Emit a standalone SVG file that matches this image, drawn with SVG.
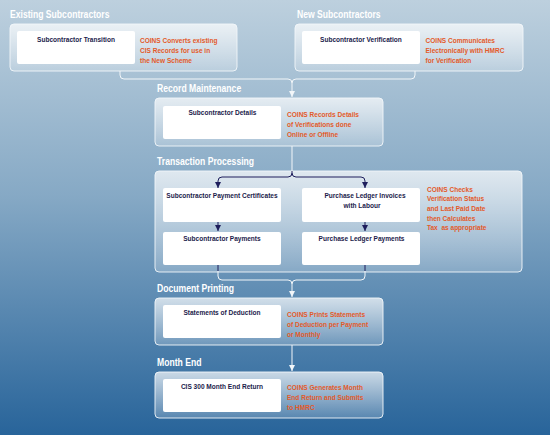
<svg xmlns="http://www.w3.org/2000/svg" width="550" height="435" viewBox="0 0 550 435">
<defs>
<linearGradient id="bg" x1="0" y1="0" x2="0" y2="1">
<stop offset="0" stop-color="#bdd0de"/>
<stop offset="0.45" stop-color="#86a9c5"/>
<stop offset="1" stop-color="#28649a"/>
</linearGradient>
<linearGradient id="pg" x1="0" y1="0" x2="0" y2="1">
<stop offset="0" stop-color="#ffffff" stop-opacity="0.72"/>
<stop offset="1" stop-color="#ffffff" stop-opacity="0.2"/>
</linearGradient>
<marker id="aw" viewBox="0 0 6 6" refX="6" refY="3" markerWidth="6" markerHeight="6" markerUnits="userSpaceOnUse" orient="auto">
<path d="M0,0 L6,3 L0,6 Z" fill="#f2f6f9"/>
</marker>
<marker id="an" viewBox="0 0 6 6" refX="6" refY="3" markerWidth="6" markerHeight="6" markerUnits="userSpaceOnUse" orient="auto">
<path d="M0,0 L6,3 L0,6 Z" fill="#1e1e5c"/>
</marker>
<style>
.panel{fill:url(#pg);stroke:#f2f6f9;stroke-width:1;stroke-opacity:0.9}
.box{fill:#ffffff}
text{font-family:"Liberation Sans",Arial,sans-serif;font-weight:bold;transform:scale(0.82,1)}
.title{font-size:10.5px;fill:#ffffff}
.lbl{font-size:8px;fill:#1b1b4b;text-anchor:middle}
.note{font-size:8px;fill:#e35a2a}
.cw{fill:none;stroke:#f2f6f9;stroke-width:1}
.cn{fill:none;stroke:#1e1e5c;stroke-width:1}
</style>
</defs>
<rect width="550" height="435" fill="url(#bg)"/>

<g id="existing">
<text class="title" x="12.2" y="18">Existing Subcontractors</text>
<rect class="panel" x="10" y="24" width="227" height="47" rx="4"/>
<rect class="box" x="17" y="31" width="118" height="33" rx="2"/>
<text class="lbl" x="92.7" y="42">Subcontractor Transition</text>
<text class="note" x="170.7" y="43.5">COINS Converts existing</text>
<text class="note" x="170.7" y="53.2">CIS Records for use in</text>
<text class="note" x="170.7" y="62.9">the New Scheme</text>
</g>

<g id="new">
<text class="title" x="362.2" y="18">New Subcontractors</text>
<rect class="panel" x="295" y="24" width="228" height="47" rx="4"/>
<rect class="box" x="302" y="31" width="118" height="33" rx="2"/>
<text class="lbl" x="440.2" y="42">Subcontractor Verification</text>
<text class="note" x="518.9" y="43.5">COINS Communicates</text>
<text class="note" x="518.9" y="53.2">Electronically with HMRC</text>
<text class="note" x="518.9" y="62.9">for Verification</text>
</g>

<g id="record">
<text class="title" x="191.5" y="92.5">Record Maintenance</text>
<rect class="panel" x="155" y="98" width="228" height="48" rx="4"/>
<rect class="box" x="163" y="106" width="118" height="33" rx="2"/>
<text class="lbl" x="271.3" y="115.5">Subcontractor Details</text>
<text class="note" x="350" y="117.5">COINS Records Details</text>
<text class="note" x="350" y="127.2">of Verifications done</text>
<text class="note" x="350" y="136.9">Online or Offline</text>
</g>

<g id="transaction">
<text class="title" x="191.5" y="165.5">Transaction Processing</text>
<rect class="panel" x="155" y="171" width="367" height="101" rx="4"/>
<text class="note" x="520.7" y="191.7">COINS Checks</text>
<text class="note" x="520.7" y="201.4">Verification Status</text>
<text class="note" x="520.7" y="211.1">and Last Paid Date</text>
<text class="note" x="520.7" y="220.8">then Calculates</text>
<text class="note" x="520.7" y="230.5" xml:space="preserve">Tax  as appropriate</text>
</g>
<g id="spc">
<rect class="box" x="163" y="188" width="118" height="34" rx="2"/>
<text class="lbl" x="270.7" y="198.5">Subcontractor Payment Certificates</text>
</g>
<g id="pli">
<rect class="box" x="302" y="188" width="118" height="34" rx="2"/>
<text class="lbl" x="445.1" y="198.5">Purchase Ledger Invoices</text>
<text class="lbl" x="441.5" y="208.5">with Labour</text>
</g>
<g id="sp">
<rect class="box" x="163" y="232" width="118" height="33" rx="2"/>
<text class="lbl" x="270.7" y="241.5">Subcontractor Payments</text>
</g>
<g id="plp">
<rect class="box" x="302" y="232" width="118" height="33" rx="2"/>
<text class="lbl" x="440.9" y="241.5">Purchase Ledger Payments</text>
</g>

<g id="document">
<text class="title" x="191.5" y="292">Document Printing</text>
<rect class="panel" x="155" y="298" width="228" height="47" rx="4"/>
<rect class="box" x="163" y="305" width="118" height="33" rx="2"/>
<text class="lbl" x="270.7" y="315.5">Statements of Deduction</text>
<text class="note" x="350" y="317.3">COINS Prints Statements</text>
<text class="note" x="350" y="327">of Deduction per Payment</text>
<text class="note" x="350" y="336.7">or Monthly</text>
</g>

<g id="monthend">
<text class="title" x="191.5" y="366.5">Month End</text>
<rect class="panel" x="155" y="372" width="228" height="46" rx="4"/>
<rect class="box" x="163" y="379" width="118" height="33" rx="2"/>
<text class="lbl" x="270.7" y="389">CIS 300 Month End Return</text>
<text class="note" x="350" y="390.5">COINS Generates Month</text>
<text class="note" x="350" y="400.2">End Return and Submits</text>
<text class="note" x="350" y="409.9">to HMRC</text>
</g>

<g id="connectors">
<path class="cw" d="M120,71 V75 Q120,79 124,79 H288 Q292,79 292,83"/>
<path class="cw" d="M415,71 V75 Q415,79 411,79 H296 Q292,79 292,83"/>
<path class="cw" d="M292,83 V97" marker-end="url(#aw)"/>
<path class="cw" d="M292,146 V171"/>
<path class="cn" d="M292,171 V173 Q292,177 288,177 H222 Q218,177 218,181 V188" marker-end="url(#an)"/>
<path class="cn" d="M292,173 Q292,177 296,177 H361 Q365,177 365,181 V188" marker-end="url(#an)"/>
<path class="cn" d="M218,222 V231" marker-end="url(#an)"/>
<path class="cn" d="M365,222 V231" marker-end="url(#an)"/>
<path class="cn" d="M218,265 V271"/>
<path class="cn" d="M365,265 V271"/>
<path class="cw" d="M218,271 V276 Q218,280 222,280 H288 Q292,280 292,284"/>
<path class="cw" d="M365,271 V276 Q365,280 361,280 H296 Q292,280 292,284"/>
<path class="cw" d="M292,284 V297" marker-end="url(#aw)"/>
<path class="cw" d="M292,345 V371" marker-end="url(#aw)"/>
</g>
</svg>
